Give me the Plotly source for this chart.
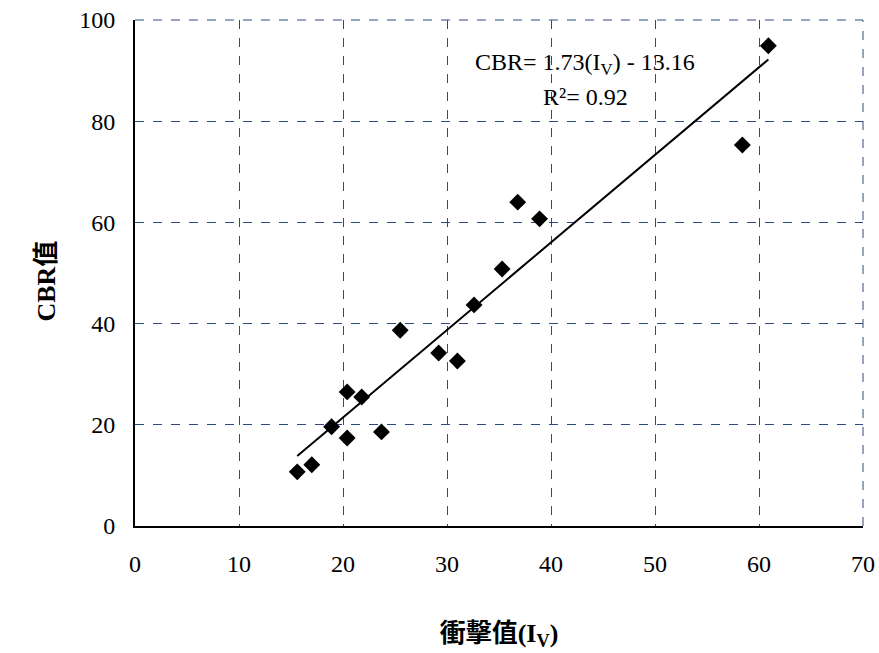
import plotly.graph_objects as go

impact_values = [15.6, 17.0, 18.9, 20.4, 20.4, 21.8, 23.7, 25.5, 29.2, 31.0, 32.6, 35.3, 36.8, 38.9, 58.4, 60.9]
cbr_values = [10.7, 12.1, 19.6, 26.5, 17.4, 25.5, 18.6, 38.7, 34.2, 32.6, 43.7, 50.8, 64.0, 60.7, 75.3, 94.9]
slope = 1.73
intercept = -13.16
r_squared = 0.92
x_ticks = [0, 10, 20, 30, 40, 50, 60, 70]
y_ticks = [0, 20, 40, 60, 80, 100]

serif = "Liberation Serif, Times New Roman, Noto Sans CJK TC, serif"
grid_color = "#2F4A7E"

fig = go.Figure()
fig.add_trace(go.Scatter(
    x=impact_values, y=cbr_values, mode="markers",
    marker=dict(symbol="diamond", size=13, color="black"),
    showlegend=False, cliponaxis=False))
x_line = [min(impact_values), max(impact_values)]
fig.add_trace(go.Scatter(
    x=x_line, y=[slope * v + intercept for v in x_line], mode="lines",
    line=dict(color="black", width=2), showlegend=False))

fig.add_annotation(
    x=0.618, y=0.947, xref="paper", yref="paper", showarrow=False,
    text=f"CBR= {slope:.2f}(I<sub>V</sub>) - {abs(intercept):.2f}",
    font=dict(family=serif, size=24, color="black"), align="center")
fig.add_annotation(
    x=0.619, y=0.878, xref="paper", yref="paper", showarrow=False,
    text=f"R²= {r_squared:.2f}",
    font=dict(family=serif, size=24, color="black"), align="center")

# y-axis title
fig.add_annotation(
    x=0, y=0.484, xref="paper", yref="paper", showarrow=False,
    xshift=-105, textangle=-90, text="<b>CBR值</b>",
    font=dict(family=serif, size=26, color="black"))

# dashed top and right frame edges
fig.add_shape(type="line", xref="paper", yref="paper", x0=0, x1=1, y0=1, y1=1,
              line=dict(color=grid_color, width=1, dash="dash"))
fig.add_shape(type="line", xref="paper", yref="paper", x0=1, x1=1, y0=0, y1=1,
              line=dict(color=grid_color, width=1, dash="dash"))

fig.update_layout(
    width=879, height=653,
    margin=dict(l=135, r=16, t=20, b=127, autoexpand=False),
    paper_bgcolor="white", plot_bgcolor="white",
    font=dict(family=serif, size=24, color="black"),
    xaxis=dict(
        range=[0, 70], tickvals=x_ticks, showgrid=True, gridcolor=grid_color,
        griddash="dash", gridwidth=1, zeroline=False, automargin=False,
        showline=True, linecolor="black", linewidth=2,
        ticks="outside", ticklen=15, tickcolor="rgba(0,0,0,0)",
        ticklabeloverflow="allow",
        tickfont=dict(family=serif, size=24),
        title=dict(text="<b>衝擊值(I<sub>V</sub>)</b>", standoff=48,
                   font=dict(family=serif, size=26))),
    yaxis=dict(
        range=[0, 100], tickvals=y_ticks, showgrid=True, gridcolor=grid_color,
        griddash="dash", gridwidth=1, zeroline=False, automargin=False,
        showline=True, linecolor="black", linewidth=2,
        ticks="outside", ticklen=13, tickcolor="rgba(0,0,0,0)",
        ticklabeloverflow="allow",
        tickfont=dict(family=serif, size=24)),
)

fig.write_html(
    "out.html",
    config={"displayModeBar": False},
    post_script="document.body.style.margin='0';document.body.style.overflow='hidden';")
